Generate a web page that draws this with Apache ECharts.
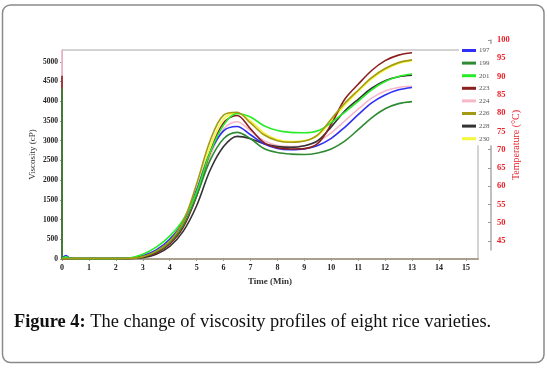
<!DOCTYPE html>
<html>
<head>
<meta charset="utf-8">
<script src="https://cdn.jsdelivr.net/npm/echarts@6/dist/echarts.min.js"></script>
<style>
  html, body { margin: 0; padding: 0; background: #fff; }
  #chart { width: 547px; height: 371px; }
</style>
</head>
<body>
<div id="chart"></div>
<script>
// time in minutes
const times = [0, 0.15, 0.3, 0.6, 1, 2, 2.5, 3, 3.5, 4, 4.5, 5, 5.5, 6, 6.5, 7, 7.5, 8, 8.5, 9, 9.5, 10, 10.5, 11, 11.5, 12, 12.5, 13];

const names = ['197', '199', '201', '223', '224', '226', '228', '230'];
const colors = ['#2f2ff5', '#2e8b34', '#28ec28', '#8b1f1f', '#f7b8c8', '#a59b12', '#333333', '#f5f53a'];

// viscosity (cP)
const v197 = [20, 90, 15, 10, 10, 10, 20, 80, 230, 500, 950, 1750, 2700, 3250, 3360, 3150, 2920, 2800, 2770, 2790, 2880, 3060, 3340, 3660, 3960, 4160, 4290, 4350];
const v199 = [0, 20, 10, 10, 10, 10, 15, 60, 180, 420, 850, 1600, 2500, 3050, 3210, 3050, 2800, 2700, 2660, 2650, 2690, 2790, 2990, 3280, 3580, 3810, 3940, 3990];
const v201 = [10, 55, 10, 10, 10, 10, 25, 120, 300, 580, 1000, 1700, 2700, 3400, 3690, 3600, 3380, 3260, 3210, 3200, 3250, 3460, 3720, 4000, 4290, 4500, 4630, 4690];
const v223 = [0, 10, 10, 10, 10, 10, 15, 50, 150, 380, 800, 1600, 2700, 3450, 3640, 3300, 2950, 2820, 2790, 2800, 2930, 3420, 4050, 4430, 4780, 5030, 5170, 5230];
const v224 = [0, 10, 10, 10, 10, 10, 15, 50, 160, 400, 820, 1600, 2600, 3300, 3480, 3250, 3000, 2880, 2850, 2870, 2980, 3200, 3500, 3800, 4080, 4260, 4350, 4380];
const v226 = [0, 10, 10, 10, 10, 10, 15, 60, 200, 450, 950, 1900, 3000, 3650, 3720, 3450, 3150, 3000, 2960, 2990, 3150, 3550, 3950, 4280, 4600, 4830, 4980, 5050];
const v228 = [0, 10, 10, 10, 10, 10, 10, 30, 120, 320, 700, 1350, 2250, 2850, 3110, 3050, 2920, 2850, 2830, 2870, 3000, 3350, 3750, 4050, 4330, 4520, 4620, 4660];
const v230 = [0, 10, 10, 10, 10, 10, 15, 70, 220, 480, 900, 1750, 2850, 3550, 3700, 3500, 3200, 3030, 2980, 3000, 3130, 3500, 3900, 4250, 4570, 4800, 4960, 5030];
const values = [v197, v199, v201, v223, v224, v226, v228, v230];

// spike at t = 0 before the curve drops
const startPeak = [0, 4330, 0, 4650, 5300, 0, 0, 0];

const timeTicks = [0, 1, 2, 3, 4, 5, 6, 7, 8, 9, 10, 11, 12, 13, 14, 15];
const viscTicks = [0, 500, 1000, 1500, 2000, 2500, 3000, 3500, 4000, 4500, 5000];
const tempTicks = [45, 50, 55, 60, 65, 70, 75, 80, 85, 90, 95, 100];

// draw order (bottom to top)
const drawOrder = [4, 7, 6, 0, 3, 1, 2, 5];

const serif = 'Liberation Serif';
const chart = echarts.init(document.getElementById('chart'));

const series = drawOrder.map(i => {
  const data = times.map((t, k) => [t, values[i][k]]);
  if (startPeak[i] > 0) data.unshift([0, startPeak[i]]);
  return {
    name: names[i],
    type: 'line',
    xAxisIndex: 0,
    yAxisIndex: 0,
    data: data,
    smooth: 0.35,
    symbol: 'none',
    color: colors[i],
    lineStyle: { width: 1.6, color: colors[i] }
  };
});

const option = {
  animation: false,
  title: {
    text: '{b|Figure 4:} The change of viscosity profiles of eight rice varieties.',
    left: 14,
    top: 313,
    padding: 0,
    textStyle: {
      fontFamily: serif,
      fontSize: 18.4,
      fontWeight: 'normal',
      color: '#111',
      rich: { b: { fontFamily: serif, fontSize: 18.4, fontWeight: 'bold', color: '#111' } }
    }
  },
  graphic: [{
    type: 'rect',
    shape: { x: 2.5, y: 5, width: 541.5, height: 357.5, r: 8 },
    style: { fill: 'none', stroke: '#8a8a8a', lineWidth: 1.5 },
    silent: true
  }],
  legend: {
    data: names,
    orient: 'vertical',
    left: 459,
    top: 44,
    icon: 'rect',
    itemWidth: 14,
    itemHeight: 3,
    itemGap: 3.6,
    padding: [2, 3, 2, 3],
    backgroundColor: '#fff',
    textStyle: { fontFamily: serif, fontSize: 7, lineHeight: 9, color: '#555', padding: [0, 0, 0, -2] }
  },
  grid: [
    { left: 62, right: 69, top: 50, bottom: 112, show: true, borderColor: '#a8a8a8', borderWidth: 1 },
    { left: 480, right: 56, top: 40, height: 210 }
  ],
  xAxis: [
    {
      gridIndex: 0,
      type: 'value',
      min: 0,
      max: 15.45,
      name: 'Time (Min)',
      nameLocation: 'middle',
      nameGap: 16,
      nameTextStyle: { fontFamily: serif, fontSize: 9, fontWeight: 'bold', color: '#333' },
      axisLine: { show: true, onZero: false, lineStyle: { color: '#aaa08e', width: 2 } },
      axisTick: { show: true, length: 2, customValues: timeTicks, lineStyle: { color: '#999' } },
      axisLabel: { customValues: timeTicks, margin: 5, fontFamily: serif, fontSize: 8, fontWeight: 'bold', color: '#222' },
      splitLine: { show: false }
    },
    { gridIndex: 1, type: 'value', min: 0, max: 1, show: false }
  ],
  yAxis: [
    {
      gridIndex: 0,
      type: 'value',
      min: 0,
      max: 5300,
      name: 'Viscosity (cP)',
      nameLocation: 'middle',
      nameRotate: 90,
      nameGap: 25,
      nameMoveOverlap: false,
      nameTextStyle: { fontFamily: serif, fontSize: 9, color: '#333' },
      axisLine: { show: true, onZero: false, lineStyle: { color: '#aaa' } },
      axisTick: { show: true, length: 2, customValues: viscTicks, lineStyle: { color: '#999' } },
      axisLabel: {
        customValues: viscTicks, margin: 4, fontFamily: serif, fontSize: 7.5, fontWeight: 'bold', color: '#222',
        formatter: v => String(v)
      },
      splitLine: { show: false }
    },
    {
      gridIndex: 1,
      type: 'value',
      position: 'right',
      min: 42.5,
      max: 100,
      name: 'Temperature (°C)',
      nameLocation: 'middle',
      nameRotate: 90,
      nameGap: 20,
      nameMoveOverlap: false,
      nameTextStyle: { fontFamily: serif, fontSize: 10, color: '#e8202a' },
      axisLine: { show: true, onZero: false, lineStyle: { color: '#aaa', width: 1.5 } },
      axisTick: { show: true, inside: true, length: 3, customValues: tempTicks, lineStyle: { color: '#999' } },
      axisLabel: { customValues: tempTicks, margin: 6, fontFamily: serif, fontSize: 8.5, fontWeight: 'bold', color: '#e8202a' },
      splitLine: { show: false }
    }
  ],
  series: series
};

chart.setOption(option);
</script>
</body>
</html>
